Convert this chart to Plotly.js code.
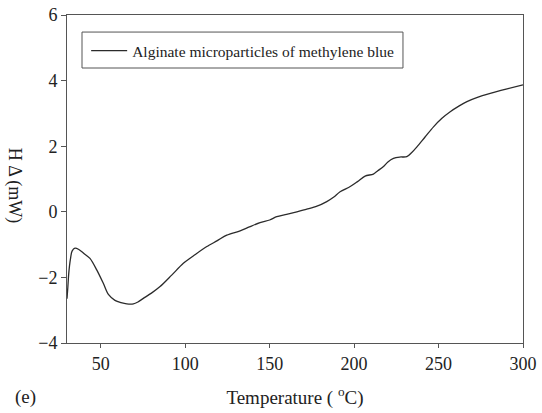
<!DOCTYPE html>
<html>
<head>
<meta charset="utf-8">
<script src="https://cdn.plot.ly/plotly-3.0.1.min.js"></script>
<style>html,body{margin:0;padding:0;background:#fff;}#chart{width:542px;height:413px;}</style>
</head>
<body>
<div id="chart"></div>
<script>
var temperature = [30, 30.5, 31, 32, 33, 34.7, 37, 40, 43.6, 47.6, 51.5, 54.5, 58.4, 62, 65.4, 69.3, 72, 75.2, 80, 85.1, 92, 98.9, 106, 112.8, 119, 124.6, 132.5, 138, 144.3, 150, 154.2, 160, 166.1, 172, 178, 183.8, 188, 191.7, 197.7, 202, 206.5, 211.4, 214, 217.4, 220, 223.3, 227, 231.2, 234, 237.2, 242, 247, 252, 256.9, 262, 266.8, 273, 280.6, 290, 300];
var heatFlow = [-2.65, -2.3, -1.9, -1.45, -1.2, -1.11, -1.15, -1.27, -1.42, -1.77, -2.18, -2.52, -2.7, -2.77, -2.81, -2.81, -2.75, -2.64, -2.48, -2.28, -1.93, -1.57, -1.3, -1.06, -0.88, -0.71, -0.58, -0.46, -0.33, -0.25, -0.15, -0.08, 0.0, 0.08, 0.17, 0.31, 0.45, 0.61, 0.77, 0.92, 1.09, 1.15, 1.25, 1.38, 1.52, 1.63, 1.67, 1.68, 1.8, 1.98, 2.28, 2.59, 2.85, 3.05, 3.22, 3.36, 3.49, 3.61, 3.74, 3.87];
var seriesName = "Alginate microparticles of methylene blue";
var xTicks = [50, 100, 150, 200, 250, 300];
var yTicks = [-4, -2, 0, 2, 4, 6];

var serif = "Liberation Serif, Times New Roman, serif";
var trace = {
  x: temperature, y: heatFlow, type: "scatter", mode: "lines", name: seriesName,
  line: {color: "#2b2b2b", width: 1.3, shape: "spline", smoothing: 0.8}
};
var layout = {
  width: 542, height: 413,
  margin: {l: 67, r: 19, t: 15, b: 70},
  paper_bgcolor: "#fff", plot_bgcolor: "#fff",
  font: {family: serif, color: "#222"},
  showlegend: true,
  legend: {x: 0.042, y: 0.89, xanchor: "left", yanchor: "middle", borderwidth: 0,
           bgcolor: "rgba(0,0,0,0)", itemwidth: 36, font: {family: serif, size: 15.5, color: "#222"}},
  shapes: [
    {type: "rect", xref: "paper", yref: "paper", x0: 0.0329, x1: 0.7368, y0: 0.8384, y1: 0.948,
     line: {color: "#555", width: 1}, fillcolor: "rgba(0,0,0,0)", layer: "above"}
  ],
  xaxis: {range: [30, 300], tickvals: xTicks, ticks: "outside", ticklen: 4, tickcolor: "#555",
          showline: true, linecolor: "#555", linewidth: 1, mirror: true, showgrid: false, zeroline: false,
          tickfont: {family: serif, size: 18, color: "#222"},
          title: {text: "Temperature ( <sup>o</sup>C)", font: {family: serif, size: 19, color: "#222"}, standoff: 18}},
  yaxis: {range: [-4, 6], tickvals: yTicks, ticks: "outside", ticklen: 5, tickcolor: "#555",
          showline: true, linecolor: "#555", linewidth: 1, mirror: true, showgrid: false, zeroline: false,
          tickfont: {family: serif, size: 18, color: "#222"}},
  annotations: [
    {text: "H Δ (mW)", xref: "paper", yref: "paper", x: -0.116, y: 0.479, textangle: 90,
     showarrow: false, font: {family: serif, size: 18, color: "#222"}, xanchor: "center", yanchor: "middle"},
    {text: "(e)", xref: "paper", yref: "paper", x: -0.092, y: -0.165, showarrow: false,
     font: {family: serif, size: 19, color: "#222"}, xanchor: "center", yanchor: "middle"}
  ]
};
Plotly.newPlot("chart", [trace], layout, {displayModeBar: false, staticPlot: true});
</script>
</body>
</html>
